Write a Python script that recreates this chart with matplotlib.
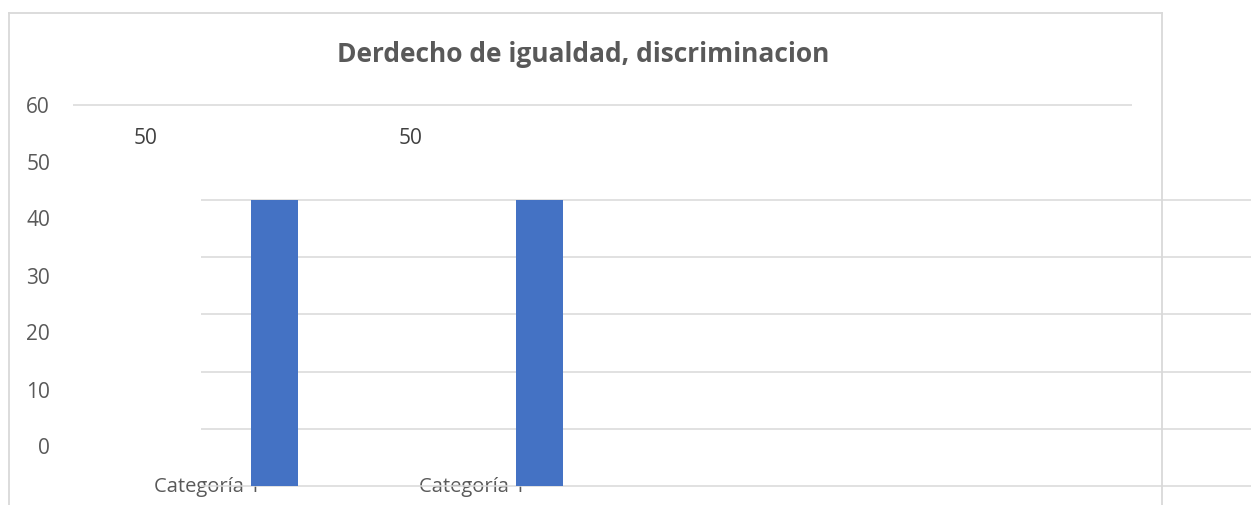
import matplotlib
matplotlib.use("Agg")
import matplotlib.pyplot as plt
from matplotlib.lines import Line2D

# ---- data ----
categories = ["Categoría 1", "Categoría 1"]
values = [50, 50]
grid_values = [0, 10, 20, 30, 40, 50]
tick_labels = ["0", "10", "20", "30", "40", "50", "60"]
title = "Derdecho de igualdad, discriminacion"

W, H = 1251, 505
DPI = 100
fig = plt.figure(figsize=(W / DPI, H / DPI), dpi=DPI)
fig.patch.set_facecolor("white")

TXT = "#595959"
GRID = "#d9d9d9"
BAR = "#4472C4"
FONT = "Open Sans"

# axes covering the whole figure; scales chosen so the rendering matches
px_per_cat = 265.0
x0_px = 274.5
px_per_unit = 5.72
y0_px = 486.0

ax = fig.add_axes([0, 0, 1, 1])
ax.set_xlim((0 - x0_px) / px_per_cat, (W - x0_px) / px_per_cat)
ax.set_ylim((y0_px - H) / px_per_unit, y0_px / px_per_unit)
ax.axis("off")

xs = list(range(len(categories)))

# category labels (behind bars)
for x, c in zip(xs, categories):
    ax.text(x - 0.255, -0.1, c, ha="center", va="center", fontsize=14.5,
            color=TXT, family=FONT, zorder=1)

# gridlines (real grid)
gx0 = (201 - x0_px) / px_per_cat
gx1 = (W - x0_px) / px_per_cat
for g in grid_values:
    ax.plot([gx0, gx1], [g, g], color=GRID, lw=1.1, zorder=2, solid_capstyle="butt")

# stray top gridline
ty = (y0_px - 105) / px_per_unit
ax.plot([(73 - x0_px) / px_per_cat, (1132 - x0_px) / px_per_cat], [ty, ty],
        color=GRID, lw=1.1, zorder=2, solid_capstyle="butt")

# bars
ax.bar(xs, values, width=47 / px_per_cat, color=BAR, zorder=3)

# data labels
for x, v in zip(xs, values):
    ax.text(x - 0.485, v + 10.7, str(v), ha="center", va="center",
            fontsize=15, color="#404040", family=FONT, zorder=4)

# value-axis labels (offset as in the reference)
lab_x = (50 - x0_px) / px_per_cat
for i, t in enumerate(tick_labels):
    y = (y0_px - 449) / px_per_unit + 10 * i * (57.0 / 57.2)
    ax.text(lab_x, y, t, ha="right", va="center", fontsize=15,
            color=TXT, family=FONT, zorder=4)

# title
fig.text(583 / W, 1 - 55 / H, title, ha="center", va="center", fontsize=19,
         fontweight="bold", color=TXT, family=FONT)

# chart border
def fl(xa, ya, xb, yb):
    fig.add_artist(Line2D([xa / W, xb / W], [1 - ya / H, 1 - yb / H],
                          color=GRID, lw=1.3, transform=fig.transFigure))

fl(9, 13, 1162, 13)
fl(9, 13, 9, H)
fl(1162, 13, 1162, H)

fig.savefig("out.png", dpi=DPI, facecolor="white")
